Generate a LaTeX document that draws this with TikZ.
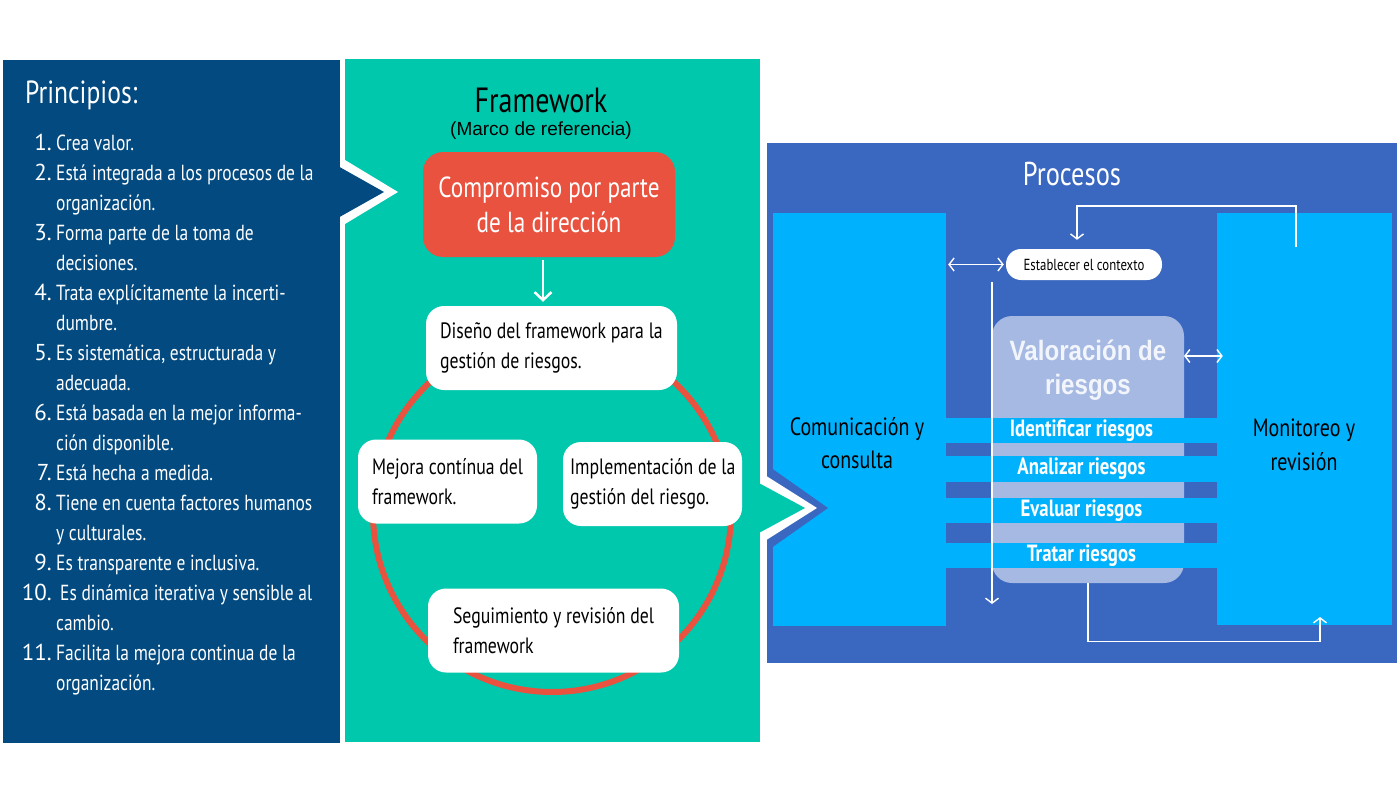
\documentclass[tikz,border=0pt]{standalone}
\usepackage{fontspec}
\setmainfont{PT Sans}[FakeStretch=0.8]
\newfontfamily\numfont{PT Sans}
\newfontfamily\arialfont{Liberation Sans}
\newfontfamily\valfont{Liberation Sans}[FakeStretch=0.86]
\usetikzlibrary{positioning,arrows.meta}
\newcommand\fsize[2]{\fontsize{#1}{#2}\selectfont}
\definecolor{azulosc}{HTML}{024A80}
\definecolor{verdeag}{HTML}{00C8AD}
\definecolor{rojo}{HTML}{E8523F}
\definecolor{azulproc}{HTML}{3A67C0}
\definecolor{celeste}{HTML}{00B2FE}
\definecolor{lavanda}{HTML}{A6B9E2}
\definecolor{valtxt}{HTML}{F2F5FB}
\begin{document}
\begin{tikzpicture}[x=1pt, y=-1pt,
  wbox/.style={rectangle, rounded corners=18pt, fill=white, minimum height=84pt},
  txt/.style={anchor=west, align=left, font=\fsize{22.2}{30}},
  numero/.style={anchor=base east, text=white, font=\numfont\fsize{23}{30}},
  principio/.style={anchor=north west, align=left, text=white, font=\fsize{21.8}{30}},
  caja/.style={rectangle, fill=celeste},
  banda/.style={rectangle, fill=celeste, minimum width=271pt, minimum height=25.5pt, text=white, font=\bfseries\fsize{23.5}{23.5}},
  pill/.style={rectangle, rounded corners=15pt, fill=white, minimum width=156pt, minimum height=31pt, font=\fsize{16}{16}},
  flecha/.style={white, line width=1.4pt, -{Straight Barb[length=5pt,width=13pt]}},
  dflecha/.style={white, line width=1.4pt, {Straight Barb[length=5pt,width=13pt]}-{Straight Barb[length=5pt,width=13pt]}}]
\tikzstyle{every node}=[inner sep=0pt]

\useasboundingbox (0,0) rectangle (1400,800);
\fill[white] (0,0) rectangle (1400,800);

% paneles
\fill[azulosc] (3,60) rectangle (340,743);
\fill[verdeag] (345,59) rectangle (760,742);
\fill[azulproc] (767,143) rectangle (1397,663);

% flecha de principios
\fill[white] (340,157) -- (398,192) -- (340,227) -- cycle;
\fill[azulosc] (336,165) -- (384,192) -- (336,219) -- cycle;

% principios
\node[font=\fsize{32}{32}, text=white, anchor=west] (princ) at (25,95) {Principios:};
\foreach \n/\y/\t in {
  1/150/{Crea valor.},
  2/180/{Está integrada a los procesos de la\\organización.},
  3/240/{Forma parte de la toma de\\decisiones.},
  4/300/{Trata explícitamente la incerti-\\dumbre.},
  5/360/{Es sistemática, estructurada y\\adecuada.},
  6/420/{Está basada en la mejor informa-\\ción disponible.},
  7/480/{Está hecha a medida.},
  8/510/{Tiene en cuenta factores humanos\\y culturales.},
  9/570/{Es transparente e inclusiva.},
  10/600/{\hspace{4pt}Es dinámica iterativa y sensible al\\cambio.},
  11/660/{Facilita la mejora continua de la\\organización.}}
{
  \node[numero] (n\n) at (52,\y) {\n.};
  \node[principio] (p\n) at (56,\y-21) {\strut\t};
}

% framework
\node[font=\fsize{35}{35}] (fw) at (541,100) {Framework};
\node[font=\arialfont\fsize{19}{19}] (sub) [below of=fw, node distance=31pt] {(Marco de referencia)};
\draw[rojo, line width=6pt] (552,513) circle (179);
\node[rectangle, rounded corners=20pt, fill=rojo, text=white, align=center, minimum width=252pt, minimum height=105pt, font=\fsize{29}{35}] (1) at (549,204.5) {Compromiso por parte\\de la dirección};
\node[wbox, minimum width=251pt] (2) at (551.5,348) {};
\node[wbox, minimum width=179pt] (3) at (447.5,481.5) {};
\node[wbox, minimum width=179pt] (4) at (652.5,484) {};
\node[wbox, minimum width=251pt] (5) at (553.5,630.5) {};
\node[txt] (2t) at ([xshift=14pt]2.west) {Diseño del framework para la\\gestión de riesgos.};
\node[txt] (3t) at ([xshift=14pt]3.west) {Mejora contínua del\\framework.};
\node[txt] (4t) at ([xshift=7pt]4.west) {Implementación de la\\gestión del riesgo.};
\node[txt] (5t) at ([xshift=25pt]5.west) {Seguimiento y revisión del\\framework};
\draw[white, line width=2.5pt, -{Straight Barb[length=8pt,width=17pt]}, shorten <=3pt, shorten >=4pt] ([xshift=-6pt]1.south) -- ([xshift=-6pt]1.south |- 2.north);

% procesos
\node[font=\fsize{33}{33}, text=white] (proc) at (1072,174) {Procesos};
\node[caja, minimum width=173pt, minimum height=413pt] (8) at (859.5,419.5) {};
\node[caja, minimum width=175pt, minimum height=412pt] (9) at (1304.5,419) {};

% flecha del framework
\fill[azulproc] (767,465) -- (828,508) -- (767,551) -- cycle;
\fill[white] (760,472) -- (817,508) -- (760,544) -- cycle;
\fill[verdeag] (757,482) -- (805,508) -- (757,534) -- cycle;

\node[rectangle, rounded corners=20pt, fill=lavanda, minimum width=192pt, minimum height=267pt] (7) at (1088,449.5) {};
\node[font=\valfont\bfseries\fsize{28}{34}, text=valtxt, align=center] (7t) at (1088,370) {Valoración de\\riesgos};
\foreach \y/\t [count=\i from 10] in {430.5/Identificar riesgos, 469/Analizar riesgos, 510.5/Evaluar riesgos, 555.5/Tratar riesgos}
  \node[banda] (\i) at (1081.5,\y) {\t};

\node[font=\fsize{25}{33}, align=center] (com) at (857,443) {Comunicación y\\consulta};
\node[font=\fsize{25}{34}, align=center] (mon) at (1304,445) {Monitoreo y\\revisión};
\node[pill] (6) at (1084,264.5) {Establecer el contexto};

% conectores
\coordinate (m) at (1296,247);
\coordinate (c) at (1077,206);
\coordinate (va) at (1184,356);
\coordinate (v1) at (992,282);
\coordinate (v2) at (992,604);
\coordinate (b) at (1320,617);
\draw[flecha, shorten >=9pt] (m) |- (c) -- (c |- 6.north);
\draw[dflecha, shorten <=2pt, shorten >=2pt] (8.east |- 6.west) -- (6.west);
\draw[dflecha] (va) -- ([xshift=6pt]va -| 9.west);
\draw[flecha] (v1) -- (v2);
\draw[flecha] (7.south) -- ++(0,58) -| (b);
\end{tikzpicture}
\end{document}
